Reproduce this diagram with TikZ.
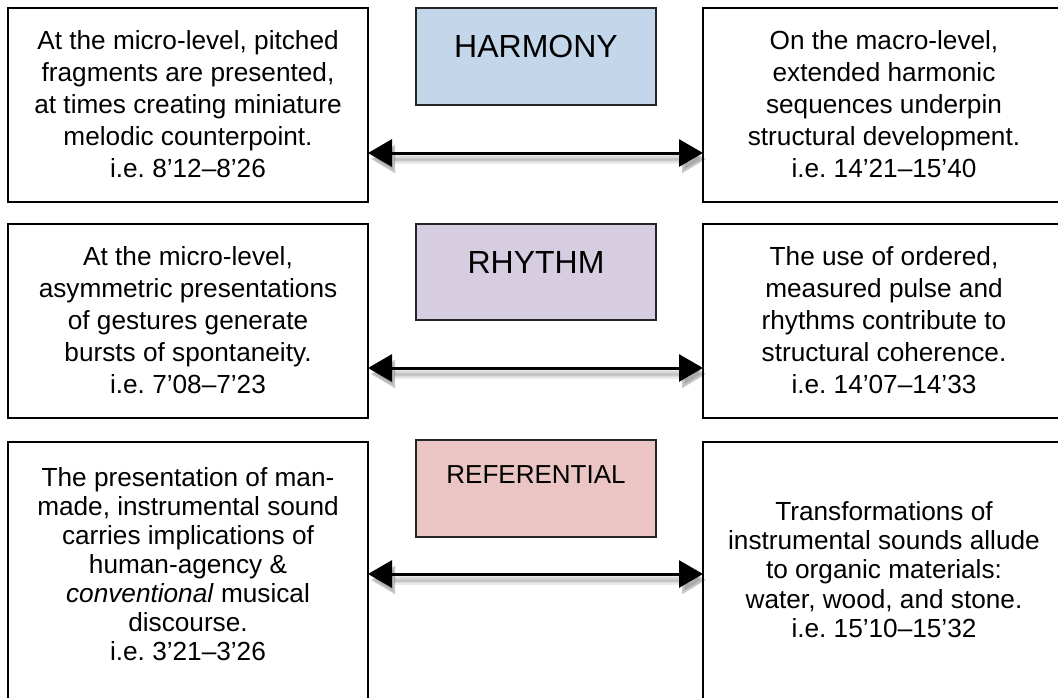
\documentclass[tikz,border=0pt]{standalone}
\usepackage{fontspec}
\setmainfont{Liberation Sans}
\usetikzlibrary{arrows.meta}
\frenchspacing

\definecolor{harmblue}{HTML}{C4D6EA}
\definecolor{rhylilac}{HTML}{D6CDE1}
\definecolor{refpink}{HTML}{EBC4C4}

\tikzset{
  textbox/.style={draw=black, line width=2pt, minimum width=360pt, minimum height=194pt, anchor=north west, inner sep=0pt, outer sep=0pt},
  headbox/.style={draw=black!85, line width=1.5pt, minimum width=240pt, minimum height=97pt, anchor=north west, inner sep=0pt, outer sep=0pt},
  bodytext/.style={anchor=north, align=center, inner sep=0pt, font=\fontsize{26.2}{32}\selectfont},
  headtext/.style={anchor=north, inner sep=0pt, font=\fontsize{32}{36}\selectfont},
  biarrow/.style={{Triangle[length=24pt,width=27pt]}-{Triangle[length=24pt,width=27pt]}, line width=3pt},
  arrowshade/.style={{Triangle[length=24pt,width=27pt]}-{Triangle[length=24pt,width=27pt]}, draw=black, fill=black, opacity=0.08, transform canvas={shift={(3,6)}}}
}

\begin{document}
\begin{tikzpicture}[x=1pt,y=-1pt]
  \useasboundingbox (0,0) rectangle (1058,697);
  \clip (0,0) rectangle (1058,697);

  \node[textbox] (harmL) at (8,8) {};
  \node[textbox] (harmR) at (703,8) {};
  \node[headbox, fill=harmblue] (harmH) at (416,8) {};
  \node[headtext] (harmHt) at (536,35) {HARMONY};
  \node[bodytext] (harmLt) at (188,30) {At the micro-level, pitched\\fragments are presented,\\at times creating miniature\\melodic counterpoint.\\i.e. 8’12–8’26};
  \node[bodytext] (harmRt) at (884,30) {On the macro-level,\\extended harmonic\\sequences underpin\\structural development.\\i.e. 14’21–15’40};
  \coordinate (harmA) at (536,153);

  \node[textbox] (rhyL) at (8,224) {};
  \node[textbox] (rhyR) at (703,224) {};
  \node[headbox, fill=rhylilac, minimum height=96pt] (rhyH) at (416,224) {};
  \node[headtext] (rhyHt) at (536,251) {RHYTHM};
  \node[bodytext] (rhyLt) at (188,246) {At the micro-level,\\asymmetric presentations\\of gestures generate\\bursts of spontaneity.\\i.e. 7’08–7’23};
  \node[bodytext] (rhyRt) at (884,246) {The use of ordered,\\measured pulse and\\rhythms contribute to\\structural coherence.\\i.e. 14’07–14’33};
  \coordinate (rhyA) at (536,368);

  \node[textbox, minimum height=268pt] (refL) at (8,442) {};
  \node[textbox, minimum height=268pt] (refR) at (703,442) {};
  \node[headbox, fill=refpink] (refH) at (416,440) {};
  \node[headtext, font=\fontsize{26}{30}\selectfont] (refHt) at (536,465) {REFERENTIAL};
  \node[bodytext, font=\fontsize{26.2}{29.1}\selectfont] (refLt) at (188,467) {The presentation of man-\\made, instrumental sound\\carries implications of\\human-agency \&\\\textit{conventional} musical\\discourse.\\i.e. 3’21–3’26};
  \node[bodytext, font=\fontsize{26.2}{29.3}\selectfont] (refRt) at (884,501) {Transformations of\\instrumental sounds allude\\to organic materials:\\water, wood, and stone.\\i.e. 15’10–15’32};
  \coordinate (refA) at (536,574);

  \foreach \r in {harm,rhy,ref}
  {
    \foreach \w in {3,6,9}
      \draw[arrowshade, line width=\w pt] (\r L.east |- \r A) -- (\r R.west |- \r A);
    \draw[biarrow] (\r L.east |- \r A) -- (\r R.west |- \r A);
  }
\end{tikzpicture}
\end{document}
